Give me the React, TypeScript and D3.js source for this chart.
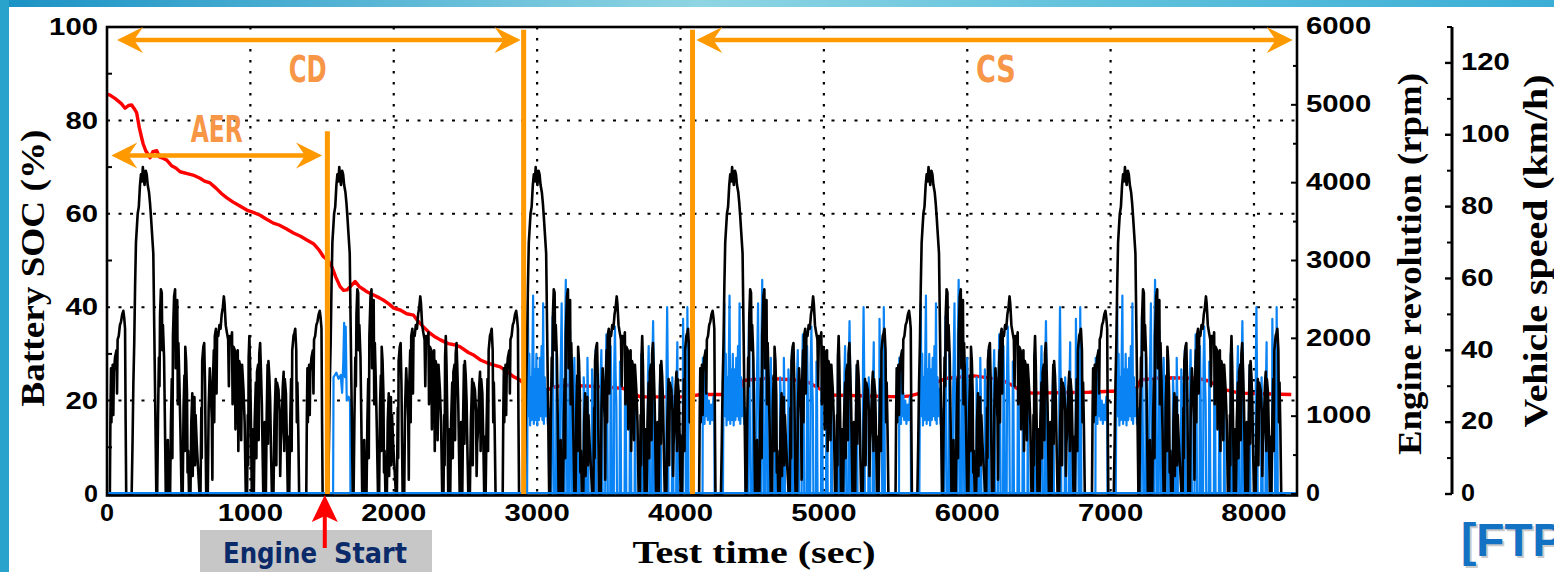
import * as d3 from 'd3'

// one UDDS cycle of vehicle speed: [sec from cycle start, km/h]
const uddsSpeed: [number, number][] = [
  [0, 0], [20, 0], [24, 22], [28, 35], [31, 20], [34, 31], [40, 36], [44, 22], [48, 34], [56, 38], [66, 40], [70, 28], [74, 43], [82, 44], [90, 47], [98, 48], [106, 50], [114, 51], [120, 49], [126, 46], [130, 20], [134, 0],
  [172, 0], [178, 14], [184, 31], [190, 42], [196, 58], [202, 70], [208, 74], [214, 78], [222, 80], [230, 86], [237, 89], [244, 87], [250, 91], [256, 88], [262, 86], [270, 90], [277, 89], [284, 86], [293, 84], [300, 81], [307, 77], [315, 72], [323, 67], [330, 45], [336, 26], [344, 0],
  [350, 0], [356, 22], [362, 38], [366, 30], [370, 50], [376, 57], [382, 56], [386, 40], [390, 47], [398, 38], [404, 20], [410, 0],
  [420, 0], [424, 15], [430, 0],
  [440, 0], [446, 20], [452, 32], [456, 10], [460, 44], [468, 55], [475, 57], [479, 35], [482, 52], [490, 54], [494, 25], [498, 42], [505, 31], [512, 18], [520, 0],
  [528, 0], [534, 24], [540, 33], [543, 12], [546, 41], [552, 37], [558, 28], [562, 6], [566, 12], [572, 0],
  [582, 0], [588, 20], [595, 28], [598, 5], [602, 24], [610, 27], [614, 8], [618, 22], [626, 14], [634, 8], [645, 0],
  [652, 0], [658, 24], [661, 10], [664, 37], [672, 41], [678, 42], [684, 30], [688, 14], [692, 0],
  [703, 0], [709, 24], [717, 35], [724, 28], [731, 21], [735, 4], [738, 30], [745, 40], [748, 20], [752, 44], [760, 46], [764, 28], [768, 45], [776, 44], [784, 47], [792, 46], [800, 50], [808, 52], [815, 55], [820, 53], [828, 47], [836, 45], [845, 43], [850, 30], [855, 44], [864, 42], [872, 45], [876, 25], [882, 41], [892, 40], [896, 18], [902, 38], [912, 40], [916, 12], [922, 37], [932, 35], [936, 15], [942, 36], [952, 29], [960, 20], [968, 0],
  [977, 0], [982, 22], [985, 8], [988, 38], [993, 44], [998, 36], [1004, 20], [1010, 0],
  [1016, 0], [1019, 18], [1022, 0],
  [1024, 0], [1030, 20], [1038, 31], [1042, 10], [1046, 34], [1054, 36], [1058, 15], [1062, 39], [1068, 42], [1074, 34], [1080, 25], [1086, 10], [1090, 0],
  [1096, 0], [1100, 20], [1104, 0],
  [1108, 0], [1114, 22], [1120, 36], [1123, 14], [1126, 37], [1132, 33], [1138, 26], [1144, 12], [1150, 0],
  [1161, 0], [1168, 20], [1177, 32], [1181, 8], [1186, 31], [1196, 29], [1204, 23], [1208, 5], [1212, 14], [1218, 18], [1226, 30], [1232, 34], [1236, 12], [1240, 32], [1248, 28], [1255, 14], [1261, 0],
  [1265, 0], [1268, 16], [1271, 0], [1277, 18], [1284, 32], [1288, 12], [1292, 40], [1301, 44], [1308, 45], [1313, 46], [1320, 40], [1324, 20], [1328, 31], [1334, 18], [1340, 0], [1370, 0],
]
const cycleStarts = [0, 1370, 2740, 4110, 5480, 6850]

// battery SOC [sec, %]
const socPoints: [number, number][] = [
  [0, 85.6], [21, 85.4], [60, 84.6], [100, 83.6], [126, 82.6], [150, 83.2], [172, 83.3], [190, 82.5], [207, 81.6], [225, 78.5], [240, 76.5], [252, 75], [270, 73.5], [285, 72.8], [300, 72], [320, 73.3], [347, 73.5], [365, 72.2], [390, 71.9], [417, 71.5], [450, 70.3], [480, 69.8], [510, 69], [560, 68.6], [600, 68.3], [649, 67.6], [680, 67], [719, 66.6], [760, 65.5], [800, 64.3], [836, 63.4], [880, 62.5], [930, 61.6], [975, 60.8], [1020, 60.3], [1068, 59.7], [1110, 58.9], [1160, 58], [1200, 57.6], [1250, 56.8], [1300, 55.9], [1350, 55.2], [1394, 54.4], [1440, 53.6], [1480, 52.2], [1510, 50.8], [1540, 50.1], [1568, 48.7], [1595, 46.5], [1626, 44.4], [1650, 43.6], [1673, 43.7], [1700, 44.5], [1731, 45.5], [1760, 44.4], [1790, 43.8], [1813, 43.3], [1860, 42.6], [1900, 42], [1929, 41.5], [1970, 40.6], [2000, 39.8], [2045, 39.4], [2090, 38.6], [2138, 38.3], [2162, 37.3], [2200, 36], [2250, 34.5], [2290, 33.6], [2325, 33], [2380, 32.2], [2430, 31.9], [2464, 31.5], [2520, 30.3], [2560, 29.7], [2604, 28.7], [2650, 28.1], [2700, 27.6], [2743, 27.2], [2790, 26.2], [2837, 25.1], [2875, 24.5], [2906, 23.7],
  [2940, 21.5], [2976, 19.5], [3000, 19], [3030, 21], [3069, 22.3], [3130, 23], [3209, 23.3], [3441, 23], [3604, 22.6], [3650, 21.7], [3721, 20.8], [4047, 20.8],
  [4140, 21.3], [4300, 21.3], [4410, 21.7], [4440, 24.3], [4605, 24.8], [4800, 24.4], [4900, 23.8], [4990, 22.2], [5050, 21.2], [5536, 20.8],
  [5600, 21], [5700, 21.8], [5790, 24], [5860, 24.8], [6048, 25.3], [6234, 24.5], [6300, 23.5], [6370, 22.2], [6450, 21.6], [6850, 21.8],
  [7000, 22], [7170, 22], [7210, 24.4], [7350, 24.9], [7600, 24.8], [7686, 24.2], [7760, 22.8], [7802, 22.3], [7900, 21.6], [8260, 21.3],
]

// engine speed during CD: only the short start at the end of AER [sec, rpm]
const engineCD: [number, number][] = [
  [0, 0], [1577, 0], [1580, 1500], [1600, 1560], [1615, 1480], [1630, 1530], [1640, 1300], [1648, 1700], [1654, 2200], [1660, 1500], [1665, 2150], [1672, 1200], [1685, 1250], [1695, 1200], [1698, 0], [2930, 0],
]
// engine speed over one charge-sustaining cycle [sec from cycle start, rpm]
const engineCS: [number, number][] = [
  [0, 0], [44, 0], [46, 1750], [50, 1000], [54, 1400], [58, 900], [62, 1600], [65, 1850], [69, 1000], [74, 1300], [80, 950], [88, 1200], [96, 900], [104, 1150], [112, 950], [120, 1250], [126, 900], [128, 0],
  [186, 0], [190, 1300], [196, 2450], [201, 1000], [206, 1800], [211, 880], [216, 1500], [222, 950], [228, 1900], [232, 2550], [237, 900], [243, 1600], [249, 950], [255, 1800], [261, 880], [267, 1600], [273, 950], [279, 1750], [285, 1000], [291, 1900], [297, 950], [302, 2450], [307, 900], [313, 1500], [319, 1000], [326, 1350], [334, 900], [341, 1100], [344, 0],
  [360, 0], [363, 1500], [368, 2280], [373, 1200], [378, 0],
  [392, 0], [395, 1800], [399, 1000], [403, 0],
  [418, 0], [421, 1300], [426, 1800], [431, 2450], [436, 1200], [441, 0],
  [452, 0], [455, 2000], [460, 2750], [465, 1600], [470, 0],
  [482, 0], [485, 1700], [490, 2100], [495, 1200], [499, 0],
  [512, 0], [515, 1400], [520, 1750], [525, 1100], [529, 0],
  [545, 0], [548, 1600], [552, 1200], [556, 0],
  [582, 0], [585, 1500], [590, 1250], [594, 0],
  [608, 0], [611, 1750], [615, 1300], [619, 0],
  [640, 0], [643, 1600], [648, 1350], [653, 0],
  [664, 0], [667, 1850], [671, 1400], [675, 0],
  [700, 0], [703, 1500], [708, 1850], [713, 1100], [717, 0],
  [735, 0], [738, 1450], [743, 2050], [748, 1500], [753, 0],
  [770, 0], [773, 1900], [778, 1300], [782, 0],
  [795, 0], [798, 1650], [803, 2150], [808, 1500], [813, 1150], [817, 0],
  [835, 0], [838, 1700], [842, 1300], [846, 0],
  [870, 0], [873, 1350], [878, 1600], [882, 0],
  [905, 0], [908, 1500], [913, 1200], [917, 0],
  [940, 0], [943, 1400], [947, 0],
  [985, 0], [988, 1800], [992, 1300], [996, 0],
  [1030, 0], [1033, 1500], [1038, 1900], [1043, 1200], [1047, 0],
  [1062, 0], [1065, 1800], [1069, 2220], [1074, 1500], [1078, 0],
  [1112, 0], [1115, 1300], [1120, 1650], [1125, 0],
  [1160, 0], [1163, 1700], [1167, 2400], [1172, 1400], [1176, 0],
  [1200, 0], [1203, 1500], [1207, 1100], [1211, 0],
  [1230, 0], [1233, 1400], [1238, 1950], [1243, 0],
  [1275, 0], [1278, 2250], [1283, 1500], [1288, 1800], [1293, 1200], [1297, 0],
  [1305, 0], [1308, 2400], [1312, 1600], [1316, 0],
  [1370, 0],
]
const csEngineOn = 2930

const timeTicks = [0, 1000, 2000, 3000, 4000, 5000, 6000, 7000, 8000]
const socTicks = [0, 20, 40, 60, 80, 100]
const rpmTicks = [0, 1000, 2000, 3000, 4000, 5000, 6000]
const speedTicks = [0, 20, 40, 60, 80, 100, 120]

// annotation times / levels
const aerEnd = 1537
const cdEnd = 2906
const csBegin = 4084
const engineStart = 1519

const ORANGE = '#FF9900'
const LABEL_ORANGE = '#F79646'
const SANS = 'Liberation Sans, Arial, sans-serif'
const SERIF = 'Liberation Serif, Times New Roman, serif'
const NARROW = 'Liberation Sans Narrow, DejaVu Sans Condensed, Arial Narrow, sans-serif'

const x = d3.scaleLinear().domain([0, 8300]).range([107, 1297])
const ySoc = d3.scaleLinear().domain([0, 100]).range([494, 27])
const yRpm = d3.scaleLinear().domain([0, 6000]).range([494, 27])
const ySpd = d3.scaleLinear().domain([0, 130]).range([494, 27])

const speedSeries: [number, number][] = cycleStarts.flatMap(s => uddsSpeed.map(([t, v]) => [s + t, v] as [number, number]))
const engineSeries: [number, number][] = engineCD.concat(
  cycleStarts.slice(2).flatMap(s => engineCS.map(([t, r]) => [s + t, r] as [number, number])).filter(d => d[0] > csEngineOn)
)

const lineSoc = d3.line<[number, number]>().x(d => x(d[0])).y(d => ySoc(d[1]))
const lineRpm = d3.line<[number, number]>().x(d => x(d[0])).y(d => yRpm(d[1]))
const lineSpd = d3.line<[number, number]>().x(d => x(d[0])).y(d => ySpd(d[1]))

// notched arrow head, tip at (tx,ty), dir = +1 pointing right, -1 pointing left
const hHead = (tx: number, ty: number, dir: number) =>
  `M${tx},${ty} L${tx - dir * 26},${ty - 13} L${tx - dir * 17},${ty} L${tx - dir * 26},${ty + 13} Z`

const digitW = (s: string) => (s.length === 1 ? 14 : s.length * 16.3)

const App = () => {
  const top = ySoc(100)
  const bottom = ySoc(0)
  const left = x(0)
  const right = x(8300)

  return (
    <svg width={1554} height={572} style={{ position: 'absolute', left: 0, top: 0 }}>
      <defs>
        <linearGradient id="bg" x1="0" x2="1" y1="0" y2="0">
          <stop offset="0" stopColor="#1A92C5" />
          <stop offset="0.45" stopColor="#8FD5E3" />
          <stop offset="0.7" stopColor="#62C2DC" />
          <stop offset="1" stopColor="#3BAED6" />
        </linearGradient>
      </defs>
      <rect width={1554} height={572} fill="url(#bg)" />
      <rect x={0} y={0} width={9} height={572} fill="#2AA3CC" />
      <rect x={9} y={7} width={1545} height={565} fill="#fff" />

      {/* grid */}
      {timeTicks.slice(1).map(t => (
        <line key={'gx' + t} x1={x(t)} x2={x(t)} y1={top} y2={bottom} stroke="#000" strokeWidth={2.2} strokeDasharray="2.5 8.5" />
      ))}
      {socTicks.slice(1, -1).map(v => (
        <line key={'gy' + v} x1={left} x2={right} y1={ySoc(v)} y2={ySoc(v)} stroke="#000" strokeWidth={2} strokeDasharray="3 8.5" />
      ))}

      {/* data */}
      <path d={lineSoc(socPoints) ?? ''} fill="none" stroke="#FF0000" strokeWidth={3.4} strokeLinejoin="round" />
      <path d={lineRpm(engineSeries) ?? ''} fill="none" stroke="#0A84F5" strokeWidth={2.2} strokeLinejoin="round" />
      <path d={lineSpd(speedSeries) ?? ''} fill="none" stroke="#000" strokeWidth={2.6} strokeLinejoin="round" />
      <line x1={left} x2={right} y1={bottom - 1} y2={bottom - 1} stroke="#0A84F5" strokeWidth={2} />

      {/* frame + left / right ticks */}
      <rect x={left} y={top} width={right - left} height={bottom + 1.5 - top} fill="none" stroke="#000" strokeWidth={2.6} />
      {d3.range(10, 100, 20).map(v => (
        <line key={'lm' + v} x1={left} x2={left + 5} y1={ySoc(v)} y2={ySoc(v)} stroke="#000" strokeWidth={2} />
      ))}
      {rpmTicks.map(v => (
        <line key={'rt' + v} x1={right - 6} x2={right} y1={yRpm(v)} y2={yRpm(v)} stroke="#000" strokeWidth={2} />
      ))}
      {d3.range(500, 6000, 1000).map(v => (
        <line key={'rm' + v} x1={right - 4} x2={right} y1={yRpm(v)} y2={yRpm(v)} stroke="#000" strokeWidth={2} />
      ))}

      {/* tick labels */}
      <g fontFamily={SANS} fontWeight="bold" fontSize={23} fill="#000">
        {socTicks.map(v => (
          <text key={'sl' + v} x={98} y={ySoc(v)} dy="0.36em" textAnchor="end" textLength={digitW(String(v))} lengthAdjust="spacingAndGlyphs">{v}</text>
        ))}
        {timeTicks.map(t => (
          <text key={'tl' + t} x={x(t)} y={521} textAnchor="middle" textLength={digitW(String(t))} lengthAdjust="spacingAndGlyphs">{t}</text>
        ))}
        {rpmTicks.map(v => (
          <text key={'rl' + v} x={1306} y={yRpm(v) - 1} dy="0.36em" textLength={digitW(String(v))} lengthAdjust="spacingAndGlyphs">{v}</text>
        ))}
        {speedTicks.map(v => (
          <text key={'vl' + v} x={1461} y={ySpd(v) - 1} dy="0.36em" textLength={digitW(String(v))} lengthAdjust="spacingAndGlyphs">{v}</text>
        ))}
      </g>

      {/* vehicle speed axis */}
      <line x1={1452} x2={1452} y1={ySpd(130)} y2={ySpd(0)} stroke="#000" strokeWidth={3} />
      {speedTicks.map(v => (
        <line key={'st' + v} x1={1445} x2={1452} y1={ySpd(v)} y2={ySpd(v)} stroke="#000" strokeWidth={2.4} />
      ))}
      {d3.range(10, 131, 20).map(v => (
        <line key={'sm' + v} x1={1447} x2={1452} y1={ySpd(v)} y2={ySpd(v)} stroke="#000" strokeWidth={2} />
      ))}

      {/* axis titles */}
      <g fontFamily={SERIF} fontWeight="bold" fill="#000" fontSize={33}>
        <text transform="translate(33,268) rotate(-90)" textAnchor="middle" dy="0.34em" textLength={277} lengthAdjust="spacingAndGlyphs">Battery SOC (%)</text>
        <text transform="translate(1410,264) rotate(-90)" textAnchor="middle" dy="0.34em" textLength={382} lengthAdjust="spacingAndGlyphs">Engine revolution (rpm)</text>
        <text transform="translate(1536,251) rotate(-90)" textAnchor="middle" dy="0.34em" textLength={353} lengthAdjust="spacingAndGlyphs">Vehicle speed (km/h)</text>
        <text x={754} y={563} textAnchor="middle" fontSize={31} textLength={243} lengthAdjust="spacingAndGlyphs">Test time (sec)</text>
      </g>

      {/* CD / CS / AER annotations */}
      <g fill={ORANGE} stroke="none">
        <line x1={x(70) + 10} x2={x(2885) - 10} y1={ySoc(97.2)} y2={ySoc(97.2)} stroke={ORANGE} strokeWidth={4.5} />
        <path d={hHead(x(70), ySoc(97.2), -1)} />
        <path d={hHead(x(2885), ySoc(97.2), 1)} />
        <line x1={x(4110) + 10} x2={x(8270) - 10} y1={ySoc(97.2)} y2={ySoc(97.2)} stroke={ORANGE} strokeWidth={4.5} />
        <path d={hHead(x(4110), ySoc(97.2), -1)} />
        <path d={hHead(x(8270), ySoc(97.2), 1)} />
        <line x1={x(30) + 10} x2={x(1500) - 10} y1={ySoc(72.5)} y2={ySoc(72.5)} stroke={ORANGE} strokeWidth={4.5} />
        <path d={hHead(x(30), ySoc(72.5), -1)} />
        <path d={hHead(x(1500), ySoc(72.5), 1)} />
        <line x1={x(aerEnd)} x2={x(aerEnd)} y1={ySoc(77.7)} y2={bottom} stroke={ORANGE} strokeWidth={5} />
        <line x1={x(cdEnd)} x2={x(cdEnd)} y1={ySoc(99.4)} y2={bottom} stroke={ORANGE} strokeWidth={5} />
        <line x1={x(csBegin)} x2={x(csBegin)} y1={ySoc(99.4)} y2={bottom} stroke={ORANGE} strokeWidth={5} />
      </g>
      <g fontFamily={NARROW} fontWeight="bold" fill={LABEL_ORANGE} fontSize={37} textAnchor="middle">
        <text x={x(1400)} y={82} textLength={38} lengthAdjust="spacingAndGlyphs">CD</text>
        <text x={x(6200)} y={82} textLength={40} lengthAdjust="spacingAndGlyphs">CS</text>
        <text x={x(765)} y={142} textLength={52} lengthAdjust="spacingAndGlyphs">AER</text>
      </g>

      {/* engine start callout */}
      <rect x={200} y={530} width={232} height={42} fill="#C7C7C7" />
      <g fontFamily={NARROW} fontWeight="bold" fontSize={29} fill="#0B2A6A">
        <text x={223} y={563} textLength={94} lengthAdjust="spacingAndGlyphs">Engine</text>
        <text x={334} y={563} textLength={73} lengthAdjust="spacingAndGlyphs">Start</text>
      </g>
      <line x1={x(engineStart)} x2={x(engineStart)} y1={515} y2={548} stroke="#FF0000" strokeWidth={4} />
      <path d={`M${x(engineStart)},495 L${x(engineStart) + 13},522 L${x(engineStart)},516 L${x(engineStart) - 13},522 Z`} fill="#FF0000" />

      {/* cycle tag */}
      <text x={1463} y={558} fontFamily={SANS} fontWeight="bold" fontSize={46} fill="#999" opacity={0.5}>[FTP</text>
      <text x={1461} y={556} fontFamily={SANS} fontWeight="bold" fontSize={46} fill="#1372C4">[FTP</text>
    </svg>
  )
}

export default App
